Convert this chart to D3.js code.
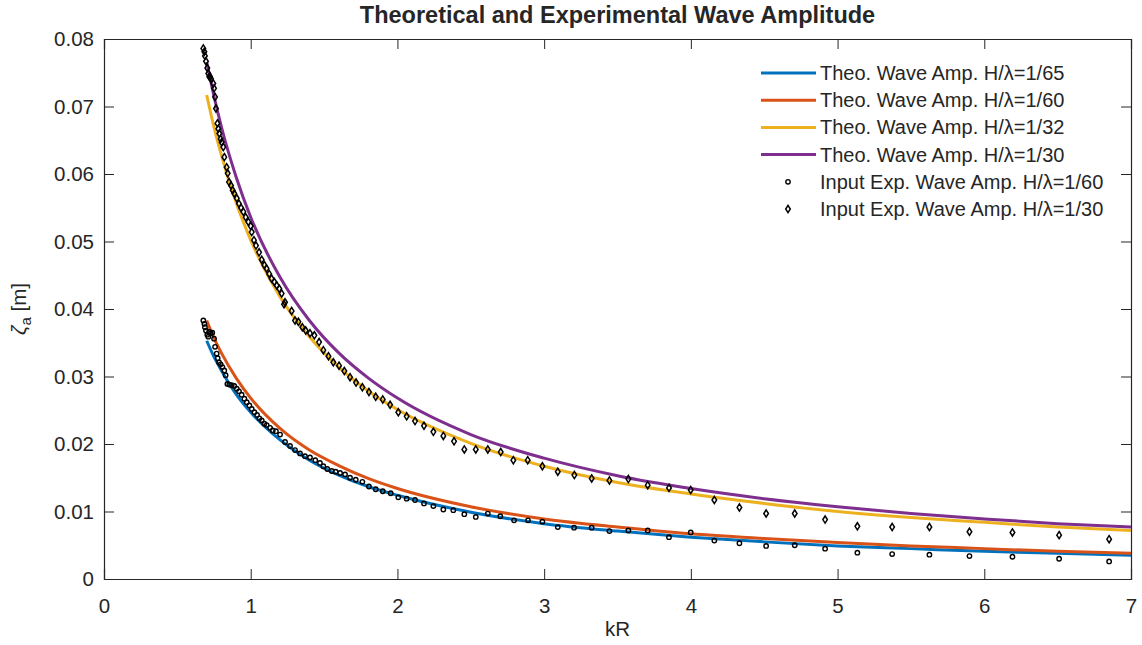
<!DOCTYPE html>
<html>
<head>
<meta charset="utf-8">
<script src="https://cdn.jsdelivr.net/npm/d3@7"></script>
<style>
  body { margin: 0; background: #fff; }
  text { font-family: "Liberation Sans", Arial, Helvetica, sans-serif; fill: #262626; }
</style>
</head>
<body>
<div id="chart"></div>
<script>
// global variables
var svg_w = 1142;
var svg_h = 645;
var margin = {left: 104, right: 11, top: 39, bottom: 66};

// theoretical curves (kR, amplitude)
var theo_kr = [0.7, 0.75, 0.8, 0.9, 1.0, 1.2, 1.4, 1.6, 1.8, 2.0, 2.5, 3.0, 3.5, 4.0, 4.5, 5.0, 5.5, 6.0, 6.5, 7.0];
var theo_65 = [0.0353, 0.0329, 0.0309, 0.0274, 0.0247, 0.0206, 0.0176, 0.0154, 0.0137, 0.0124, 0.0099, 0.0082, 0.0071, 0.0062, 0.0055, 0.0049, 0.0045, 0.0041, 0.0038, 0.0035];
var theo_60 = [0.0383, 0.0357, 0.0335, 0.0298, 0.0268, 0.0223, 0.0191, 0.0168, 0.0149, 0.0134, 0.0107, 0.0089, 0.0077, 0.0067, 0.0060, 0.0054, 0.0049, 0.0045, 0.0041, 0.0038];
var theo_32 = [0.0717, 0.0669, 0.0628, 0.0558, 0.0502, 0.0418, 0.0359, 0.0314, 0.0279, 0.0251, 0.0201, 0.0167, 0.0143, 0.0126, 0.0112, 0.0100, 0.0091, 0.0084, 0.0077, 0.0072];
var theo_30 = [0.0766, 0.0715, 0.0670, 0.0596, 0.0536, 0.0447, 0.0383, 0.0335, 0.0298, 0.0268, 0.0214, 0.0179, 0.0153, 0.0134, 0.0119, 0.0107, 0.0097, 0.0089, 0.0082, 0.0077];

// experiment H/lambda = 1/60 (circles)
var exp60_kr = [0.677, 0.684, 0.688, 0.695, 0.704, 0.711, 0.716, 0.727, 0.738, 0.750, 0.757, 0.768, 0.775, 0.784, 0.795, 0.807, 0.820, 0.829, 0.841, 0.854, 0.870, 0.888, 0.905, 0.920, 0.938, 0.957, 0.973, 0.991, 1.007, 1.025, 1.043, 1.059, 1.075, 1.093, 1.109, 1.132, 1.150, 1.172, 1.200, 1.234, 1.268, 1.302, 1.336, 1.370, 1.404, 1.440, 1.472, 1.495, 1.522, 1.552, 1.579, 1.609, 1.643, 1.677, 1.716, 1.761, 1.806, 1.852, 1.900, 1.954, 2.006, 2.063, 2.120, 2.181, 2.245, 2.313, 2.381, 2.456, 2.534, 2.616, 2.701, 2.795, 2.890, 2.988, 3.093, 3.204, 3.324, 3.445, 3.574, 3.706, 3.851, 3.999, 4.160, 4.331, 4.513, 4.708, 4.915, 5.135, 5.372, 5.626, 5.899, 6.192, 6.510, 6.851];
var exp60_amp = [0.0383, 0.0378, 0.0373, 0.0368, 0.0362, 0.0359, 0.0366, 0.0364, 0.0365, 0.0356, 0.0344, 0.0334, 0.0327, 0.0321, 0.0318, 0.0314, 0.0309, 0.0302, 0.0289, 0.0288, 0.0287, 0.0286, 0.0282, 0.0278, 0.0273, 0.0267, 0.0262, 0.0257, 0.0252, 0.0247, 0.0243, 0.0238, 0.0235, 0.0230, 0.0228, 0.0224, 0.0220, 0.0219, 0.0214, 0.0203, 0.0197, 0.0191, 0.0186, 0.0182, 0.0180, 0.0176, 0.0172, 0.0167, 0.0163, 0.0160, 0.0159, 0.0157, 0.0155, 0.0150, 0.0147, 0.0144, 0.0137, 0.0133, 0.0130, 0.0127, 0.0121, 0.0119, 0.0117, 0.0112, 0.0108, 0.0103, 0.0102, 0.0096, 0.0092, 0.0097, 0.0093, 0.0087, 0.0087, 0.0085, 0.0077, 0.0076, 0.0076, 0.0071, 0.0072, 0.0072, 0.0062, 0.0069, 0.0057, 0.0053, 0.0049, 0.0050, 0.0045, 0.0039, 0.0037, 0.0036, 0.0034, 0.0033, 0.0030, 0.0026];

// experiment H/lambda = 1/30 (diamonds)
var exp30_kr = [0.677, 0.684, 0.688, 0.695, 0.704, 0.711, 0.718, 0.723, 0.729, 0.745, 0.750, 0.757, 0.763, 0.773, 0.779, 0.786, 0.795, 0.802, 0.813, 0.820, 0.836, 0.843, 0.852, 0.866, 0.877, 0.888, 0.905, 0.920, 0.934, 0.950, 0.966, 0.984, 1.000, 1.007, 1.022, 1.036, 1.057, 1.075, 1.093, 1.108, 1.126, 1.142, 1.161, 1.177, 1.195, 1.211, 1.227, 1.234, 1.279, 1.302, 1.325, 1.352, 1.375, 1.404, 1.434, 1.466, 1.495, 1.530, 1.563, 1.602, 1.638, 1.677, 1.718, 1.761, 1.806, 1.852, 1.900, 1.950, 2.006, 2.063, 2.120, 2.181, 2.245, 2.313, 2.386, 2.456, 2.534, 2.616, 2.704, 2.790, 2.888, 2.988, 3.093, 3.206, 3.324, 3.445, 3.574, 3.706, 3.851, 3.999, 4.160, 4.331, 4.513, 4.708, 4.915, 5.135, 5.372, 5.626, 5.899, 6.192, 6.510, 6.851];
var exp30_amp = [0.0786, 0.0781, 0.0775, 0.0767, 0.0757, 0.0749, 0.0744, 0.0744, 0.0741, 0.0734, 0.0727, 0.0714, 0.0697, 0.0675, 0.0667, 0.0660, 0.0652, 0.0647, 0.0640, 0.0625, 0.0610, 0.0601, 0.0588, 0.0583, 0.0576, 0.0571, 0.0564, 0.0556, 0.0550, 0.0544, 0.0536, 0.0529, 0.0523, 0.0514, 0.0502, 0.0494, 0.0484, 0.0473, 0.0465, 0.0460, 0.0452, 0.0445, 0.0440, 0.0435, 0.0430, 0.0423, 0.0407, 0.0410, 0.0397, 0.0383, 0.0381, 0.0373, 0.0368, 0.0364, 0.0361, 0.0351, 0.0339, 0.0330, 0.0321, 0.0316, 0.0308, 0.0299, 0.0291, 0.0284, 0.0277, 0.0270, 0.0266, 0.0258, 0.0247, 0.0241, 0.0234, 0.0227, 0.0218, 0.0212, 0.0204, 0.0192, 0.0192, 0.0192, 0.0188, 0.0176, 0.0176, 0.0167, 0.0159, 0.0154, 0.0149, 0.0146, 0.0148, 0.0139, 0.0135, 0.0132, 0.0117, 0.0106, 0.0097, 0.0097, 0.0088, 0.0078, 0.0077, 0.0077, 0.0070, 0.0069, 0.0065, 0.0059];

var x_ticks = [0, 1, 2, 3, 4, 5, 6, 7];
var y_ticks = [0, 0.01, 0.02, 0.03, 0.04, 0.05, 0.06, 0.07, 0.08];

var series = [
	{label: "Theo. Wave Amp. H/\u03bb=1/65", y: theo_65, color: "#0072BD"},
	{label: "Theo. Wave Amp. H/\u03bb=1/60", y: theo_60, color: "#D95319"},
	{label: "Theo. Wave Amp. H/\u03bb=1/32", y: theo_32, color: "#EDB120"},
	{label: "Theo. Wave Amp. H/\u03bb=1/30", y: theo_30, color: "#7E2F8E"}
];

var svg = d3.select("#chart")
	.append("svg")
	.attr("width", svg_w)
	.attr("height", svg_h);

var x = d3.scaleLinear()
	.domain([0, 7])
	.range([margin.left, svg_w - margin.right]);

var y = d3.scaleLinear()
	.domain([0, 0.08])
	.range([svg_h - margin.bottom, margin.top]);

var tick_len = 10;
var axis_col = "#262626";

// axes (matlab style: ticks inside, box on)
var x_axis = svg.append("g")
	.attr("transform", "translate(0," + y(0) + ")")
	.call(d3.axisBottom(x).tickValues(x_ticks).tickSize(-tick_len).tickPadding(19).tickFormat(d3.format("d")));
var x_top = svg.append("g")
	.attr("transform", "translate(0," + y(0.08) + ")")
	.call(d3.axisTop(x).tickValues(x_ticks).tickSize(-tick_len).tickFormat(""));
var y_axis = svg.append("g")
	.attr("transform", "translate(" + x(0) + ",0)")
	.call(d3.axisLeft(y).tickValues(y_ticks).tickSize(-tick_len).tickPadding(10)
		.tickFormat(function(d) { return d === 0 ? "0" : d.toFixed(2); }));
var y_right = svg.append("g")
	.attr("transform", "translate(" + x(7) + ",0)")
	.call(d3.axisRight(y).tickValues(y_ticks).tickSize(-tick_len).tickFormat(""));

[x_axis, x_top, y_axis, y_right].forEach(function(g) {
	g.select(".domain").attr("stroke", axis_col).attr("stroke-width", 1.2);
	g.selectAll(".tick line").attr("stroke", axis_col).attr("stroke-width", 1);
	g.selectAll(".tick text").style("font-size", "20.5px").attr("fill", axis_col);
});

// clip for the lines
svg.append("clipPath").attr("id", "clip")
	.append("rect")
	.attr("x", x(0)).attr("y", y(0.08))
	.attr("width", x(7) - x(0)).attr("height", y(0) - y(0.08));

var line = d3.line()
	.x(function(d) { return x(d[0]); })
	.y(function(d) { return y(d[1]); })
	.curve(d3.curveMonotoneX);

svg.append("g").attr("clip-path", "url(#clip)")
	.selectAll("path")
	.data(series)
	.enter()
	.append("path")
	.attr("d", function(s) { return line(d3.zip(theo_kr, s.y)); })
	.attr("fill", "none")
	.attr("stroke", function(s) { return s.color; })
	.attr("stroke-width", 3);

// markers
var circ_pts = d3.zip(exp60_kr, exp60_amp);
var diam_pts = d3.zip(exp30_kr, exp30_amp);
var diamond = "M0,-3.6L2.3,0L0,3.6L-2.3,0Z";

svg.append("g")
	.selectAll("circle")
	.data(circ_pts)
	.enter()
	.append("circle")
	.attr("cx", function(d) { return x(d[0]); })
	.attr("cy", function(d) { return y(d[1]); })
	.attr("r", 2.2)
	.attr("fill", "none")
	.attr("stroke", "#000")
	.attr("stroke-width", 1.4);

svg.append("g")
	.selectAll("path")
	.data(diam_pts)
	.enter()
	.append("path")
	.attr("d", diamond)
	.attr("transform", function(d) { return "translate(" + x(d[0]) + "," + y(d[1]) + ")"; })
	.attr("fill", "none")
	.attr("stroke", "#000")
	.attr("stroke-width", 1.5);

// title and labels
svg.append("text")
	.attr("x", (x(0) + x(7)) / 2)
	.attr("y", 23)
	.attr("text-anchor", "middle")
	.style("font-size", "23.5px")
	.style("font-weight", "bold")
	.attr("fill", "#000")
	.text("Theoretical and Experimental Wave Amplitude");

svg.append("text")
	.attr("x", (x(0) + x(7)) / 2)
	.attr("y", 636)
	.attr("text-anchor", "middle")
	.style("font-size", "20.5px")
	.text("kR");

var ylab = svg.append("text")
	.attr("transform", "translate(26," + ((y(0) + y(0.08)) / 2) + ") rotate(-90)")
	.attr("text-anchor", "middle")
	.style("font-size", "20.5px");
ylab.append("tspan").style("font-style", "italic").text("\u03b6");
ylab.append("tspan").attr("dy", 5).style("font-size", "15px").text("a");
ylab.append("tspan").attr("dy", -5).text(" [m]");

// legend
var leg = svg.append("g");
var leg_x = 761;
var leg_y0 = 73;
var leg_dy = 27.2;

series.forEach(function(s, i) {
	leg.append("line")
		.attr("x1", leg_x).attr("x2", leg_x + 55)
		.attr("y1", leg_y0 + i * leg_dy).attr("y2", leg_y0 + i * leg_dy)
		.attr("stroke", s.color).attr("stroke-width", 3);
	leg.append("text")
		.attr("x", 820).attr("y", leg_y0 + i * leg_dy + 7)
		.style("font-size", "20px").attr("fill", "#000")
		.text(s.label);
});

leg.append("circle")
	.attr("cx", 788).attr("cy", leg_y0 + 4 * leg_dy)
	.attr("r", 2.2).attr("fill", "none").attr("stroke", "#000").attr("stroke-width", 1.4);
leg.append("text")
	.attr("x", 820).attr("y", leg_y0 + 4 * leg_dy + 7)
	.style("font-size", "20px").attr("fill", "#000")
	.text("Input Exp. Wave Amp. H/\u03bb=1/60");

leg.append("path")
	.attr("d", diamond)
	.attr("transform", "translate(788," + (leg_y0 + 5 * leg_dy) + ")")
	.attr("fill", "none").attr("stroke", "#000").attr("stroke-width", 1.5);
leg.append("text")
	.attr("x", 820).attr("y", leg_y0 + 5 * leg_dy + 7)
	.style("font-size", "20px").attr("fill", "#000")
	.text("Input Exp. Wave Amp. H/\u03bb=1/30");
</script>
</body>
</html>
